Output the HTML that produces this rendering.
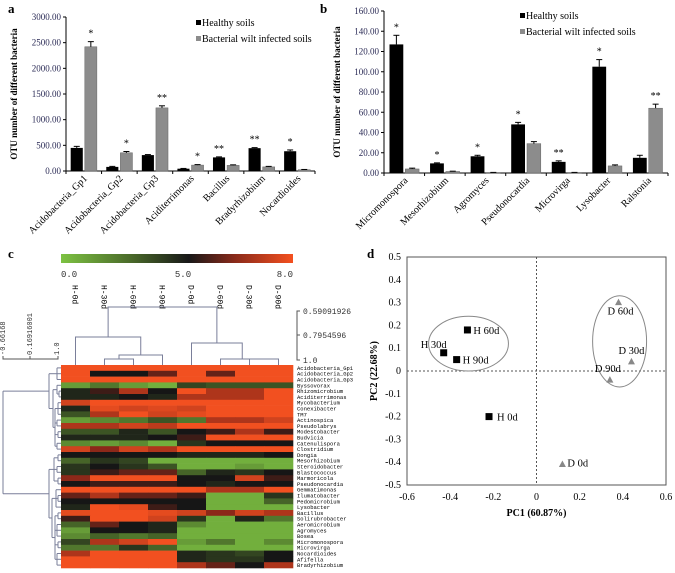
<!DOCTYPE html>
<html><head><meta charset="utf-8"><style>
html,body{margin:0;padding:0;background:#fff;}
svg{display:block;font-family:"Liberation Serif",serif;}
</style></head><body>
<svg id="fig" width="675" height="573" viewBox="0 0 675 573">
<defs>
<linearGradient id="cbar" x1="0" x2="1" y1="0" y2="0">
<stop offset="0" stop-color="#7dc242"/><stop offset="0.3" stop-color="#4a6a2a"/><stop offset="0.55" stop-color="#181818"/><stop offset="0.75" stop-color="#8a2a1a"/><stop offset="1" stop-color="#f4501f"/>
</linearGradient>
</defs>
<g id="pa"></g>
<g id="pb"></g>
<g id="pc"></g>
<g id="pd"></g>
</svg>
<script>
// ---- Panel a data ----
const catsA = ["Acidobacteria_Gp1","Acidobacteria_Gp2","Acidobacteria_Gp3","Aciditerrimonas","Bacillus","Bradyrhizobium","Nocardioides"];
const healthyA = [450,80,310,45,265,445,385];
const infectedA = [2420,355,1230,115,110,80,25];
const healthyErrA = [30,10,10,5,10,10,25];
const infectedErrA = [100,25,40,10,10,10,5];
const sigA = ["*","*","**","*","**","**","*"];
const sigOnInfectedA = [1,1,1,1,0,0,0];
const ticksA = [0,500,1000,1500,2000,2500,3000];
// ---- Panel b data ----
const catsB = ["Micromonospora","Mesorhizobium","Agromyces","Pseudonocardia","Microvirga","Lysobacter","Ralstonia"];
const healthyB = [127,9.5,16.5,48,11,105,15];
const infectedB = [4,1.5,0.5,29,0.5,7,64];
const healthyErrB = [9,0.5,1,2,1,7,2.5];
const infectedErrB = [0.8,0.3,0.1,2,0.1,1,4];
const sigB = ["*","*","*","*","**","*","**"];
const sigOnInfectedB = [0,0,0,0,0,0,1];
const ticksB = [0,20,40,60,80,100,120,140,160];
// ---- Panel c data ----
const heatCols = ["H-0d","H-30d","H-60d","H-90d","D-0d","D-60d","D-30d","D-90d"];
const heatRows = ["Acidobacteria_Gp1","Acidobacteria_Gp2","Acidobacteria_Gp3","Byssovorax","Rhizomicrobium","Aciditerrimonas","Mycobacterium","Conexibacter","TM7","Actinospica","Pseudolabrys","Modestobacter","Budvicia","Catenulispora","Clostridium","Dongia","Mesorhizobium","Steroidobacter","Blastococcus","Marmoricola","Pseudonocardia","Gemmatimonas","Ilumatobacter","Pedomicrobium","Lysobacter","Bacillus","Solirubrobacter","Aeromicrobium","Agromyces","Bosea","Micromonospora","Microvirga","Nocardioides","Afifella","Bradyrhizobium"];
const heatVals = [
[8,8,8,8,8,8,8,8],[8,5,5,6,8,6,8,8],[8,8,8,8,8,8,8,8],[1,2,1,0.5,3.5,3,3,3],
[4.5,5.5,7,5,8,7,7,8],[4.5,4.5,5,4.5,7,7,7,8],[7.5,8,8,8,8,8,8,8],[4.5,7.8,7.5,7.7,7.5,8,8,8],
[3,7,8,7.5,7.8,8,8,8],[1,1.5,2,3,2,7,7,7.5],[7,7,7.5,7.2,8,8,8,8],[3,3,4.5,3,5,5.5,7,5.5],
[4.5,4.5,4.5,5,5.5,8,8,8],[1.5,1,1.5,0.5,4,5,5,5],[7.5,6.5,7.5,7,8,8,8,8],[5,5,5,5,4.5,4.5,4.5,5],
[2.5,4,3.5,0.5,0.5,0.5,0.5,0.5],[4,5,4,3,0.5,0.5,1,0.5],[4,5.5,6,6,2.5,4.5,4,5],[6.5,8,8,8,5,5,7.5,5.5],
[5,5.5,5.5,5.5,5,4.5,5,5],[8,8,8,8,8,7,7,8],[6,7,6,6,5.5,0.5,0.5,4],[5,5,5,5,5,0.5,0.5,2.5],
[4.5,8,7.8,5.5,5,0.5,0.5,0.5],[7.8,8,8,7.8,7.5,6.5,7.5,7],[5.5,8,8,7.5,4,0.5,4.5,2],[2.5,6,5,4.5,1.5,0.5,0.5,0.5],
[1,5,5,4.5,0.5,0.5,0.5,0.5],[1.5,2.5,2,2.5,0.5,0.5,0.5,0.5],[3.5,7,7.5,8,1,2,0.5,1.5],[2,2,4,2.5,0.5,0.5,0.5,0.5],
[7,8,8,8,4.5,4,3.5,5],[8,8,8,8,4.5,4,4,5],[8,8,8,8,7,6,5,7]];
// ---- Panel d data ----
const pcaLabels = ["H 0d","H 30d","H 60d","H 90d","D 0d","D 30d","D 60d","D 90d"];
const pc1 = [-0.22,-0.43,-0.32,-0.37,0.12,0.44,0.38,0.34];
const pc2 = [-0.2,0.08,0.18,0.05,-0.41,0.04,0.3,-0.04];
const pcaGroup = ["H","H","H","H","D","D","D","D"];
const pcaXTicks = [-0.6,-0.4,-0.2,0,0.2,0.4,0.6];
const pcaYTicks = [-0.5,-0.4,-0.3,-0.2,-0.1,0,0.1,0.2,0.3,0.4,0.5];

const NS="http://www.w3.org/2000/svg";
function mk(tag, attrs, parent, text){const e=document.createElementNS(NS,tag);for(const k in attrs)e.setAttribute(k,attrs[k]);if(text!==undefined)e.textContent=text;parent.appendChild(e);return e;}

function barPanel(g, o){
  const y=v=>o.y0-(v/o.ymax)*(o.y0-o.yTop);
  const cw=(o.x1-o.x0)/o.cats.length;
  const t=mk("text",{x:o.lx,y:o.ly,"font-size":13,"font-weight":"bold"},g,o.letter);
  
  
  const ax=mk("line",{x1:o.x0,y1:o.yTop,x2:o.x0,y2:o.y0,stroke:"#000"},g);
  
  
  const xa=mk("line",{x1:o.x0,y1:o.y0,x2:o.x1,y2:o.y0,stroke:"#000"},g);
  
  
  o.ticks.forEach(v=>{
    mk("line",{x1:o.x0-3,y1:y(v),x2:o.x0,y2:y(v),stroke:"#000"},g);
    const tl=mk("text",{x:o.x0-5,y:y(v)+3,"font-size":9,"text-anchor":"end",fill:"#2a2a55"},g,v.toFixed(2));
    
    
  });
  for(let i=0;i<=o.cats.length;i++) mk("line",{x1:o.x0+i*cw,y1:o.y0,x2:o.x0+i*cw,y2:o.y0+3,stroke:"#000"},g);
  const yt=mk("text",{transform:`translate(${o.tx},${(o.yTop+o.y0)/2}) rotate(-90)`,"font-size":9,"font-weight":"bold","text-anchor":"middle"},g,"OTU number of different bacteria");
  
  
  const bw=cw*0.34;
  o.cats.forEach((c,i)=>{
    const cx=o.x0+i*cw+cw/2;
    const hx=cx-bw-1, ix=cx+1;
    const hb=mk("rect",{x:hx,y:y(o.h[i]),width:bw,height:o.y0-y(o.h[i]),fill:"#000"},g);
    
    
    const ib=mk("rect",{x:ix,y:y(o.inf[i]),width:bw,height:o.y0-y(o.inf[i]),fill:"#8c8c8c",stroke:"#666","stroke-width":0.5},g);
    
    
    [[hx,o.h[i],o.he[i]],[ix,o.inf[i],o.ie[i]]].forEach(([bx,v,e])=>{
      const ex=bx+bw/2;
      mk("line",{x1:ex,y1:y(v),x2:ex,y2:y(v+e),stroke:"#000"},g);
      mk("line",{x1:ex-3,y1:y(v+e),x2:ex+3,y2:y(v+e),stroke:"#000"},g);
    });
    const onI=o.sigOn[i];
    const sx=onI?ix+bw/2:hx+bw/2;
    const sv=onI?o.inf[i]+o.ie[i]:o.h[i]+o.he[i];
    const st=mk("text",{x:sx,y:y(sv)-5,"font-size":10,"text-anchor":"middle"},g,o.sig[i]);
    
    
    const lb=mk("text",{transform:`translate(${cx+4},${o.y0+8}) rotate(-45)`,"font-size":10,"text-anchor":"end"},g,c);
    
    
  });
  const lg=mk("g",{},g);
  
  
  mk("rect",{x:o.legX,y:o.legY-6,width:5,height:5,fill:"#000"},lg);
  const l1=mk("text",{x:o.legX+6,y:o.legY,"font-size":10},lg,"Healthy soils");
  
  
  mk("rect",{x:o.legX,y:o.legY+10,width:5,height:5,fill:"#8c8c8c"},lg);
  const l2=mk("text",{x:o.legX+6,y:o.legY+16,"font-size":10},lg,"Bacterial wilt infected soils");
  
  
}
barPanel(document.getElementById("pa"),{letter:"a",lx:8,ly:13,x0:66,x1:315,yTop:17,y0:171,ymax:3000,ticks:ticksA,cats:catsA,h:healthyA,inf:infectedA,he:healthyErrA,ie:infectedErrA,sig:sigA,sigOn:sigOnInfectedA,tx:17,legX:196,legY:26});
barPanel(document.getElementById("pb"),{letter:"b",lx:320,ly:13,x0:384,x1:668,yTop:11,y0:173,ymax:160,ticks:ticksB,cats:catsB,h:healthyB,inf:infectedB,he:healthyErrB,ie:infectedErrB,sig:sigB,sigOn:sigOnInfectedB,tx:340,legX:520,legY:19});

// ---- Panel c ----
(function(){
  const g=document.getElementById("pc");
  const lt=mk("text",{x:8,y:258,"font-size":13,"font-weight":"bold"},g,"c");
  
  
  const cb=mk("rect",{x:61,y:254,width:232,height:9,fill:"url(#cbar)"},g);
  
  
  [["0.0",61,"start"],["5.0",183,"middle"],["8.0",293,"end"]].forEach(([t,x,a])=>{
    const e=mk("text",{x:x,y:277,"font-size":9,"text-anchor":a,"font-family":"Liberation Mono, monospace",fill:"#333"},g,t);
    
    
  });
  const hx0=61,hx1=293,hy0=365,hy1=568;
  const cw=(hx1-hx0)/heatCols.length, rh=(hy1-hy0)/heatRows.length;
  function lerp(a,b,t){return a.map((v,i)=>Math.round(v+(b[i]-v)*t));}
  function col(v){
    const G=[125,194,66],D=[70,100,40],K=[22,22,22],R=[140,40,25],O=[242,80,32];
    let c; if(v<=2.5)c=lerp(G,D,v/2.5); else if(v<=5)c=lerp(D,K,(v-2.5)/2.5); else if(v<=6.5)c=lerp(K,R,(v-5)/1.5); else c=lerp(R,O,Math.min(1,(v-6.5)/1.5));
    return `rgb(${c[0]},${c[1]},${c[2]})`;
  }
  heatCols.forEach((c,j)=>{
    const e=mk("text",{transform:`translate(${hx0+cw*j+cw/2-3},${285}) rotate(90)`,"font-size":8,"font-family":"Liberation Mono, monospace"},g,c);
    
    
  });
  heatRows.forEach((r,i)=>{
    heatVals[i].forEach((v,j)=>{
      const e=mk("rect",{x:hx0+cw*j,y:hy0+rh*i,width:cw+0.3,height:rh+0.3,fill:col(v)},g);
      
      
    });
    const t=mk("text",{x:297,y:hy0+rh*i+rh/2+2,"font-size":5.5,"font-family":"Liberation Mono, monospace"},g,r);
    
    
  });
  // top dendrogram
  const cx=j=>hx0+cw*j+cw/2;
  const st={stroke:"#7a7f9a","stroke-width":1,fill:"none"};
  function br(x1,x2,yj,ya,yb){mk("path",Object.assign({d:`M${x1},${ya}V${yj}H${x2}V${yb}`},st),g);}
  br(cx(1),cx(2),359,365,365);
  br((cx(1)+cx(2))/2,cx(3),355,359,365);
  br(cx(0),((cx(1)+cx(2))/2+cx(3))/2,337,365,355);
  br(cx(6),cx(7),359,365,365);
  br(cx(5),(cx(6)+cx(7))/2,359,365,359);
  br(cx(4),(cx(5)+(cx(6)+cx(7))/2)/2,343,365,359);
  br((cx(0)+((cx(1)+cx(2))/2+cx(3))/2)/2,(cx(4)+(cx(5)+(cx(6)+cx(7))/2)/2)/2,307,337,343);
  // right scale
  mk("path",{d:"M300,311H297V360H300M297,335H300",stroke:"#555",fill:"none"},g);
  [["0.59091926",311],["0.7954596",335],["1.0",360]].forEach(([t,y])=>{
    const e=mk("text",{x:303,y:y+3,"font-size":8,"font-family":"Liberation Mono, monospace",fill:"#333"},g,t);
    
    
  });
  // left scale
  mk("path",{d:"M3,356V359H58V356M30,359V356",stroke:"#555",fill:"none"},g);
  [["-0.66168",5],["0.16916001",32],["1.0",59]].forEach(([t,x])=>{
    const e=mk("text",{transform:`translate(${x},355) rotate(-90)`,"font-size":7,"font-family":"Liberation Mono, monospace",fill:"#333"},g,t);
    
    
  });
  // left dendrogram (approximate structure)
  const ry=i=>hy0+rh*i+rh/2;
  function tree(node){ // returns [x,y]
    if(typeof node==="number") return [61,ry(node)];
    const kids=node.c.map(tree);
    const ys=kids.map(k=>k[1]);
    const x=node.x;
    kids.forEach(k=>mk("line",Object.assign({x1:x,y1:k[1],x2:k[0],y2:k[1]},st),g));
    mk("line",Object.assign({x1:x,y1:Math.min(...ys),x2:x,y2:Math.max(...ys)},st),g);
    return [x,(Math.min(...ys)+Math.max(...ys))/2];
  }
  const T={x:3,c:[
    {x:49,c:[{x:57,c:[0,1,2]},{x:53,c:[{x:57,c:[3,{x:59,c:[4,5]}]},{x:55,c:[{x:58,c:[6,7,8]},{x:57,c:[9,10]},{x:58,c:[11,12]},{x:57,c:[13,14]}]}]}]},
    {x:49,c:[{x:54,c:[{x:58,c:[15,16]},{x:57,c:[17,18]},{x:58,c:[19,20]}]},{x:52,c:[{x:56,c:[21,{x:58,c:[22,23]},24]},{x:55,c:[{x:58,c:[25,26]},{x:57,c:[27,28,29]},{x:58,c:[30,31]},{x:57,c:[32,33,34]}]}]}]}
  ]};
  tree(T);
})();

// ---- Panel d ----
(function(){
  const g=document.getElementById("pd");
  const x0=407,x1=666,yT=257,yB=485;
  const sx=v=>x0+(v+0.6)/1.2*(x1-x0), sy=v=>yB-(v+0.5)/1.0*(yB-yT);
  const lt=mk("text",{x:367,y:258,"font-size":13,"font-weight":"bold"},g,"d");
  
  
  const box=mk("rect",{x:x0,y:yT,width:x1-x0,height:yB-yT,fill:"none",stroke:"#555"},g);
  
  
  mk("line",{x1:sx(0),y1:yT,x2:sx(0),y2:yB,stroke:"#555","stroke-dasharray":"2,2"},g);
  mk("line",{x1:x0,y1:sy(0),x2:x1,y2:sy(0),stroke:"#555","stroke-dasharray":"2,2"},g);
  pcaXTicks.forEach(v=>{
    const e=mk("text",{x:sx(v),y:500,"font-size":10,"text-anchor":"middle"},g,String(v));
    
    
  });
  pcaYTicks.forEach(v=>{
    const e=mk("text",{x:x0-6,y:sy(v)+3,"font-size":10,"text-anchor":"end"},g,String(v));
    
    
  });
  const xt=mk("text",{x:(x0+x1)/2,y:516,"font-size":10,"font-weight":"bold","text-anchor":"middle"},g,"PC1 (60.87%)");
  
  
  const yt=mk("text",{transform:`translate(377,${(yT+yB)/2}) rotate(-90)`,"font-size":10,"font-weight":"bold","text-anchor":"middle"},g,"PC2 (22.68%)");
  
  
  const e1=mk("ellipse",{cx:(sx(-0.5)+sx(-0.13))/2,cy:sy(0.12),rx:(sx(-0.13)-sx(-0.5))/2,ry:(sy(0.0)-sy(0.24))/2,fill:"none",stroke:"#888"},g);
  
  
  const e2=mk("ellipse",{cx:(sx(0.26)+sx(0.51))/2,cy:sy(0.13),rx:(sx(0.51)-sx(0.26))/2,ry:(sy(-0.07)-sy(0.33))/2,fill:"none",stroke:"#888"},g);
  
  
  const lblOff={"H 0d":[8,4,"start"],"H 30d":[3,-5,"end"],"H 60d":[6,4,"start"],"H 90d":[6,4,"start"],"D 0d":[5,2,"start"],"D 30d":[0,-8,"middle"],"D 60d":[2,12,"middle"],"D 90d":[-2,-8,"middle"]};
  pcaLabels.forEach((l,i)=>{
    const px=sx(pc1[i]),py=sy(pc2[i]);
    let m;
    if(pcaGroup[i]==="H") m=mk("rect",{x:px-3.5,y:py-3.5,width:7,height:7,fill:"#000"},g);
    else m=mk("path",{d:`M${px},${py-4}L${px+3.5},${py+2.5}L${px-3.5},${py+2.5}Z`,fill:"#888"},g);
    
    
    const o=lblOff[l];
    const t=mk("text",{x:px+o[0],y:py+o[1],"font-size":10.5,"text-anchor":o[2]},g,l);
    
    
  });
})();
</script>
</body></html>
